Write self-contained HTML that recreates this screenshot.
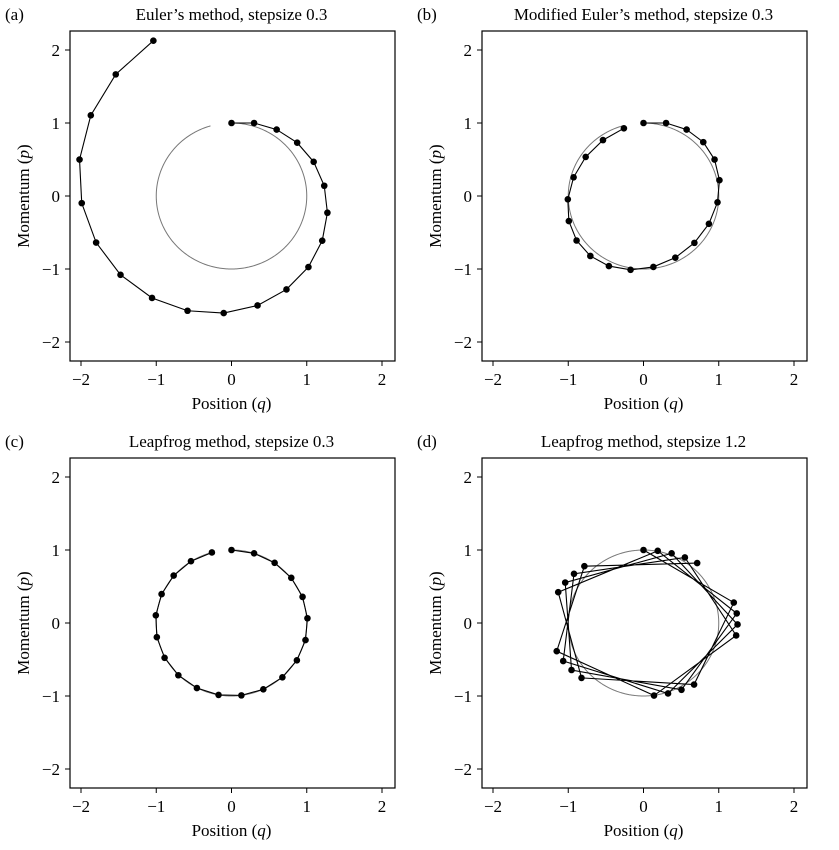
<!DOCTYPE html>
<html><head><meta charset="utf-8"><style>
html,body{margin:0;padding:0;background:#fff;}
svg{display:block;font-family:"Liberation Serif",serif;}
</style></head><body>
<svg id="s" width="839" height="850" xmlns="http://www.w3.org/2000/svg"></svg>
<script>
const S=document.getElementById('s');let h='';
const panels=[
 {lab:'(a)',title:'Euler\u2019s method, stepsize 0.3',dx:0,dy:0,m:'euler',e:0.3},
 {lab:'(b)',title:'Modified Euler\u2019s method, stepsize 0.3',dx:412,dy:0,m:'mod',e:0.3},
 {lab:'(c)',title:'Leapfrog method, stepsize 0.3',dx:0,dy:427,m:'leap',e:0.3},
 {lab:'(d)',title:'Leapfrog method, stepsize 1.2',dx:412,dy:427,m:'leap',e:1.2}];
for(const P of panels){
 const cx=231.5+P.dx,cy=196+P.dy,sx=75.25,sy=73;
 const X=q=>cx+q*sx,Y=p=>cy-p*sy;
 const bx=70+P.dx,by=31+P.dy;
 h+=`<rect x="${bx}" y="${by}" width="325" height="330" fill="none" stroke="#000" stroke-width="1.2"/>`;
 h+=`<text x="${P.dx+5}" y="${P.dy+20}" font-size="17">${P.lab}</text>`;
 h+=`<text x="${cx}" y="${P.dy+20}" font-size="17" text-anchor="middle">${P.title}</text>`;
 for(let v=-2;v<=2;v++){
  const lbl=v<0?'\u2212'+(-v):''+v;
  h+=`<line x1="${X(v)}" y1="${by+330}" x2="${X(v)}" y2="${by+335}" stroke="#000"/>`;
  h+=`<text x="${X(v)}" y="${by+354}" font-size="17" text-anchor="middle">${lbl}</text>`;
  h+=`<line x1="${bx}" y1="${Y(v)}" x2="${bx-5}" y2="${Y(v)}" stroke="#000"/>`;
  h+=`<text x="${bx-10}" y="${Y(v)+6}" font-size="17" text-anchor="end">${lbl}</text>`;
 }
 h+=`<text x="${cx}" y="${by+378}" font-size="17" text-anchor="middle">Position (<tspan font-style="italic">q</tspan>)</text>`;
 h+=`<text transform="translate(${P.dx+29},${cy}) rotate(-90)" font-size="17" text-anchor="middle">Momentum (<tspan font-style="italic">p</tspan>)</text>`;
 const T=20*P.e;let d='';
 for(let i=0;i<=400;i++){const t=Math.min(T,2*Math.PI)*i/400;d+=(i?'L':'M')+X(Math.sin(t)).toFixed(2)+','+Y(Math.cos(t)).toFixed(2);}
 h+=`<path d="${d}" fill="none" stroke="#777" stroke-width="1"/>`;
 let q=0,p=1,pts=[[q,p]];const e=P.e;
 for(let i=0;i<20;i++){
  if(P.m=='euler'){const np=p-e*q,nq=q+e*p;p=np;q=nq;}
  else if(P.m=='mod'){p=p-e*q;q=q+e*p;}
  else{p=p-e/2*q;q=q+e*p;p=p-e/2*q;}
  pts.push([q,p]);
 }
 h+=`<polyline points="${pts.map(a=>X(a[0]).toFixed(2)+','+Y(a[1]).toFixed(2)).join(' ')}" fill="none" stroke="#000" stroke-width="1.1"/>`;
 for(const a of pts)h+=`<circle cx="${X(a[0])}" cy="${Y(a[1])}" r="3.3" fill="#000"/>`;
}
S.innerHTML=h;
</script>
</body></html>
